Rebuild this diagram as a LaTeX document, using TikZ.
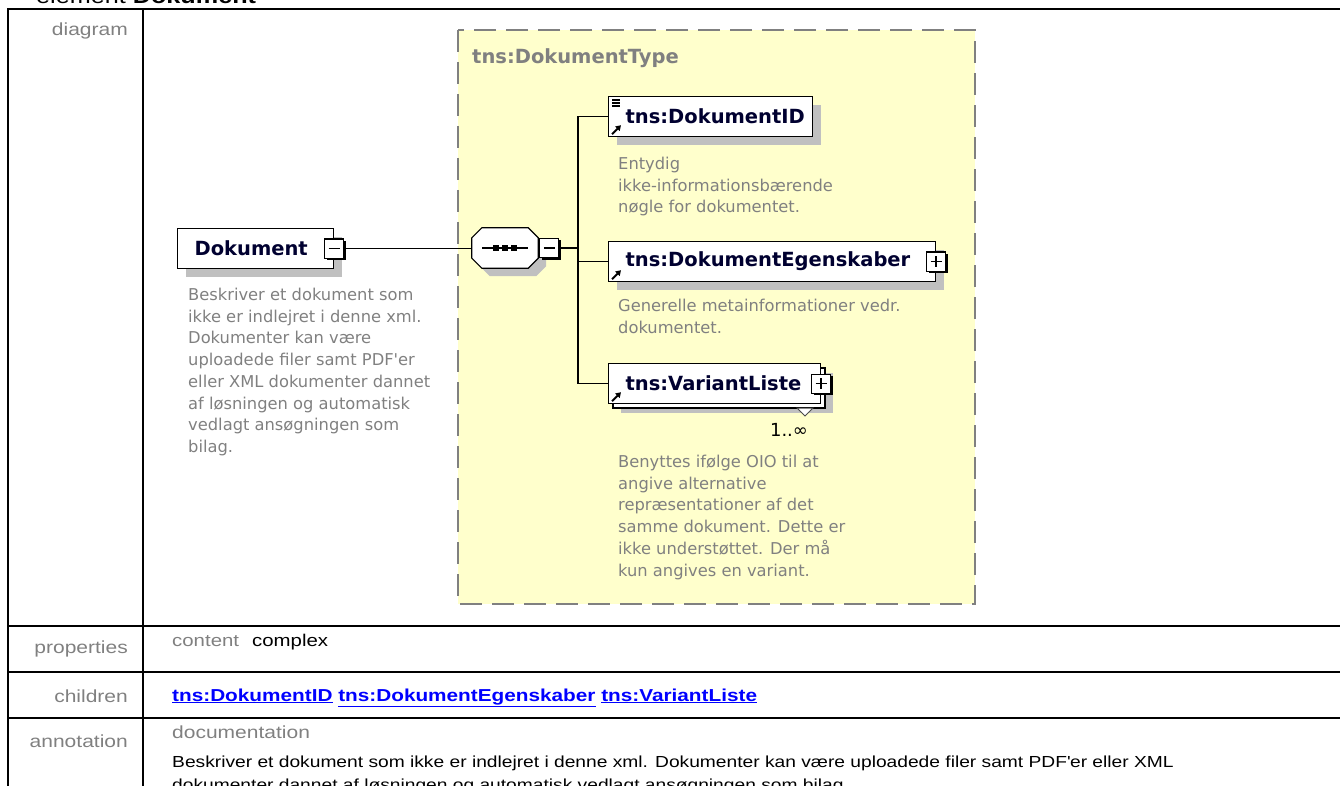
\documentclass[tikz,border=0pt]{standalone}
\usepackage{fontspec}
\usetikzlibrary{arrows.meta,positioning,shadows}
\newfontfamily\diafont{DejaVu Sans}
\newfontfamily\tabfont[FakeStretch=1.2]{Liberation Sans}

\definecolor{namecol}{RGB}{0,0,48}
\definecolor{descgray}{RGB}{128,128,128}
\definecolor{labgray}{RGB}{128,128,128}
\definecolor{shadowgray}{RGB}{192,192,192}
\definecolor{typebg}{RGB}{255,255,204}
\definecolor{typeborder}{RGB}{128,128,128}
\definecolor{linkblue}{RGB}{0,0,255}

\tikzset{
  tabline/.style={line width=2pt},
  tabtitle/.style={font=\tabfont\fontsize{21}{24}\selectfont, inner sep=0pt, anchor=base west},
  tablab/.style={font=\tabfont\fontsize{17.5}{21}\selectfont, text=labgray, inner sep=0pt, anchor=base east},
  tabtext/.style={font=\tabfont\fontsize{16}{20}\selectfont, inner sep=0pt, anchor=base west},
  typebox/.style={draw=typeborder, fill=typebg, line width=2pt, dash pattern=on 22pt off 10pt},
  typelab/.style={font=\diafont\bfseries\fontsize{19.5}{23}\selectfont, text=labgray, inner sep=0pt, anchor=base west},
  elemplain/.style={draw, line width=1.2pt, fill=white, inner xsep=17pt, inner ysep=0pt,
    minimum height=40pt, align=left, anchor=north west,
    font=\diafont\bfseries\fontsize{19.5}{23}\selectfont, text=namecol},
  elem/.style={elemplain, drop shadow={shadow xshift=8pt, shadow yshift=-8pt, fill=shadowgray, opacity=1}},
  backbox/.style={draw, line width=1.2pt, fill=white, drop shadow={shadow xshift=8pt, shadow yshift=-5pt, fill=shadowgray, opacity=1}},
  expbox/.style={draw, line width=1.2pt, fill=white, minimum size=19pt, inner sep=0pt,
    drop shadow={shadow xshift=2pt, shadow yshift=-2pt, fill=black, opacity=1}},
  expminus/.style={expbox, path picture={
    \draw[line width=1.5pt] ([xshift=4pt]path picture bounding box.west) -- ([xshift=-4pt]path picture bounding box.east);}},
  expplus/.style={expbox, path picture={
    \draw[line width=1.5pt] ([xshift=4pt]path picture bounding box.west) -- ([xshift=-4pt]path picture bounding box.east)
      ([yshift=-4pt]path picture bounding box.north) -- ([yshift=4pt]path picture bounding box.south);}},
  seq/.style={minimum width=66pt, minimum height=40pt, inner sep=0pt},
  seqline/.style={draw, line width=1.2pt, fill=white,
    drop shadow={shadow xshift=8pt, shadow yshift=-8pt, fill=shadowgray, opacity=1}},
  desc/.style={font=\diafont\fontsize{16.3}{21.7}\selectfont, text=descgray, align=left, inner sep=0pt, anchor=north west},
  mult/.style={font=\diafont\fontsize{18}{20}\selectfont, inner sep=0pt},
  multtri/.style={draw=black!70, line width=1pt, fill=white},
  conn/.style={line width=1.5pt},
  refarrow/.style={line width=2pt, -{Triangle[length=5pt,width=6pt]}},
}

\begin{document}
\begin{tikzpicture}[x=1pt,y=-1pt]
  \useasboundingbox (0,0) rectangle (1340,786);

  %% Title, cut by the top edge
  \node[tabtitle] (title) at (36,4) {element \textbf{Dokument}};

  %% Table frame
  \draw[tabline] (8,786) -- (8,9) -- (1340,9);
  \draw[tabline] (143,9) -- (143,786);
  \foreach \y in {626,672,718}
    \draw[tabline] (8,\y) -- (1340,\y);

  %% Row labels
  \node[tablab] (labdia) at (128,36) {diagram};
  \node[tablab] (labprop) at (128,653) {properties};
  \node[tablab] (labkids) at (128,702) {children};
  \node[tablab] (labann) at (128,747) {annotation};

  %% Row contents
  \node[tabtext, font=\tabfont\fontsize{17}{20}\selectfont, text=labgray] (content) at (172,646) {content};
  \node[tabtext, font=\tabfont\fontsize{17}{20}\selectfont] (complex) at (252,646) {complex};
  \node[tabtext, font=\tabfont\bfseries\fontsize{17.3}{20}\selectfont, text=linkblue] (kids) at (172,701)
    {\underline{tns:DokumentID} \underline{tns:DokumentEgenskaber} \underline{tns:VariantListe}};
  \node[tabtext, font=\tabfont\fontsize{17.5}{20}\selectfont, text=labgray] (docu) at (172,738) {documentation};
  \node[tabtext] (ann1) at (172,767)
    {Beskriver et dokument som ikke er indlejret i denne xml. Dokumenter kan være uploadede filer samt PDF\textquotesingle er eller XML};
  \node[tabtext] (ann2) at (172,790)
    {dokumenter dannet af løsningen og automatisk vedlagt ansøgningen som bilag.};

  %% DokumentType
  \draw[typebox] (458,30) rectangle (975,604);
  \node[typelab] (typename) at (472,64) {tns:DokumentType};

  %% Dokument
  \node[elem, text width=122pt] (dok) at (177,228) {Dokument};
  \node[expminus] (dokexp) at (dok.east) {};
  \node[desc] (dokdesc) at (188,288) {Beskriver et dokument som\\ikke er indlejret i denne xml.\\Dokumenter kan være\\uploadede filer samt PDF\textquotesingle er\\eller XML dokumenter dannet\\af løsningen og automatisk\\vedlagt ansøgningen som\\bilag.};

  %% sequence
  \node[seq] (seq) at (505,248) {};
  \draw[seqline] ([xshift=10pt]seq.north west) -- ([xshift=-10pt]seq.north east)
    -- ([yshift=-10pt]seq.north east) -- ([yshift=10pt]seq.south east)
    -- ([xshift=-10pt]seq.south east) -- ([xshift=10pt]seq.south west)
    -- ([yshift=10pt]seq.south west) -- ([yshift=-10pt]seq.north west) -- cycle;
  \draw[conn] ([xshift=-23pt]seq.center) -- ([xshift=23pt]seq.center);
  \foreach \d in {-9,0,9}
    \fill ([xshift=\d pt]seq.center) +(-3,-3) rectangle +(3,3);
  \node[expminus, right=1pt of seq] (seqexp) {};

  %% children
  \node[elem, text width=170pt] (docid) at (608,96) {tns:DokumentID};
  \node[desc] (iddesc) at (618,157) {Entydig\\ikke-informationsbærende\\nøgle for dokumentet.};

  \node[elem, text width=293pt] (egen) at (608,241) {tns:DokumentEgenskaber};
  \node[expplus] (egenexp) at (egen.east) {};
  \node[desc] (egendesc) at (618,299) {Generelle metainformationer vedr.\\dokumentet.};

  \draw[backbox] (613,368) rectangle (825,408);
  \draw[multtri] (797,408) -- (813,408) -- (805,416) -- cycle;
  \node[elemplain, text width=178pt] (var) at (608,363) {tns:VariantListe};
  \node[expplus] (varexp) at (var.east) {};
  \node[mult] (varmult) at (789,430) {1..∞};
  \node[desc] (vardesc) at (618,455) {Benyttes ifølge OIO til at\\angive alternative\\repræsentationer af det\\samme dokument. Dette er\\ikke understøttet. Der må\\kun angives en variant.};

  %% icons
  \foreach \s in {4,7,10}
    \draw[line width=1.2pt] ([xshift=4pt,yshift=-\s pt]docid.north west) -- ++(8,0);
  \foreach \b in {docid,egen,var}
    \draw[refarrow] ([xshift=4pt,yshift=3pt]\b.south west) -- ++(9,-9);

  %% connectors
  \coordinate (trunk) at (578,248);
  \draw[conn] (dokexp.east) -- (dokexp.east -| seq.west);
  \draw[conn] (seqexp.east) -- (trunk);
  \draw[conn] (trunk) |- (docid.west);
  \draw[conn] (trunk) |- (egen.west);
  \draw[conn] (trunk) |- (var.west);
\end{tikzpicture}
\end{document}
